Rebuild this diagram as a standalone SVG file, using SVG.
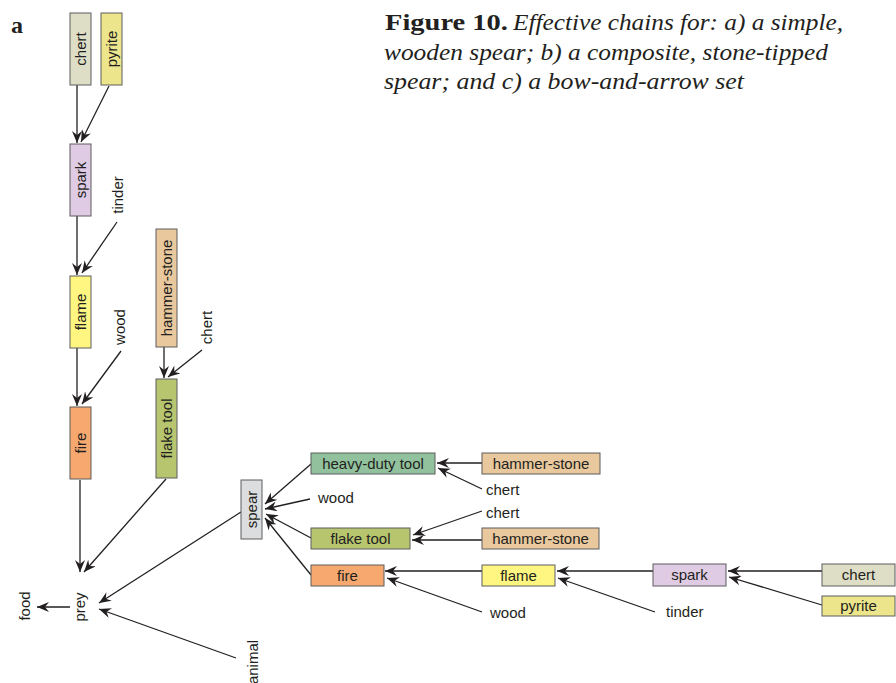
<svg xmlns="http://www.w3.org/2000/svg" width="896" height="683" viewBox="0 0 896 683">
<style>
.box{stroke:#5c5d5f;stroke-width:1}
.lbl{font-family:"Liberation Sans",Arial,sans-serif;font-size:15px;fill:#231f20;text-anchor:middle}
.free{font-family:"Liberation Sans",Arial,sans-serif;font-size:15px;fill:#231f20}
.cap{font-family:"Liberation Serif","Times New Roman",serif;font-size:24px;fill:#231f20}
.con line{stroke:#231f20;stroke-width:1.3;fill:none;marker-end:url(#ah)}
.chert{fill:#deddc5}.pyrite{fill:#ece58c}.spark{fill:#dfcbe3}.flame{fill:#fff681}.fire{fill:#f6a86f}.hammer{fill:#e8c89c}.flake{fill:#b8c56f}.heavy{fill:#91c29d}.spear{fill:#dcdddf}
</style>
<defs>
<marker id="ah" viewBox="0 0 12 10" refX="12" refY="5" markerWidth="12" markerHeight="10" markerUnits="userSpaceOnUse" orient="auto">
<path d="M0,0 L12,5 L0,10 L4,5 Z" fill="#231f20"/>
</marker>
</defs>
<rect width="896" height="683" fill="#ffffff"/>

<g id="caption">
<text class="cap" x="11" y="33" font-weight="bold" font-size="25">a</text>
<text class="cap" x="385" y="30" font-weight="bold" textLength="123" lengthAdjust="spacingAndGlyphs">Figure 10.</text>
<text class="cap" x="513" y="30" font-style="italic" textLength="330" lengthAdjust="spacingAndGlyphs">Effective chains for: a) a simple,</text>
<text class="cap" x="384" y="60" font-style="italic" textLength="444" lengthAdjust="spacingAndGlyphs">wooden spear; b) a composite, stone-tipped</text>
<text class="cap" x="384" y="89" font-style="italic" textLength="360" lengthAdjust="spacingAndGlyphs">spear; and c) a bow-and-arrow set</text>
</g>

<g class="con" id="connectors">
<line x1="77" y1="85" x2="77" y2="143"/>
<line x1="109" y1="86" x2="81" y2="142"/>
<line x1="77" y1="216" x2="77" y2="275"/>
<line x1="117" y1="222" x2="82" y2="273"/>
<line x1="77" y1="348" x2="77" y2="406"/>
<line x1="121" y1="351" x2="82" y2="404"/>
<line x1="80" y1="480" x2="80" y2="572"/>
<line x1="166" y1="479" x2="84" y2="572"/>
<line x1="164" y1="347" x2="164" y2="378"/>
<line x1="202" y1="350" x2="168" y2="377"/>
<line x1="241" y1="512" x2="99" y2="603"/>
<line x1="236" y1="658" x2="99" y2="609"/>
<line x1="70" y1="607" x2="37" y2="607"/>
<line x1="311" y1="464" x2="265" y2="504"/>
<line x1="310" y1="499" x2="265" y2="509"/>
<line x1="311" y1="538" x2="266" y2="514"/>
<line x1="311" y1="575" x2="265" y2="518"/>
<line x1="482" y1="463" x2="437" y2="463"/>
<line x1="482" y1="489" x2="438" y2="468"/>
<line x1="482" y1="511" x2="413" y2="535"/>
<line x1="482" y1="540" x2="412" y2="540"/>
<line x1="482" y1="571" x2="385" y2="571"/>
<line x1="482" y1="612" x2="387" y2="578"/>
<line x1="653" y1="571" x2="557" y2="571"/>
<line x1="655" y1="612" x2="558" y2="578"/>
<line x1="822" y1="571" x2="728" y2="571"/>
<line x1="822" y1="605" x2="729" y2="577"/>
</g>

<g id="a-chert"><rect class="box chert" x="70" y="13" width="21" height="72"/><text class="lbl" transform="translate(80.5,49) rotate(-90)" y="5">chert</text></g>
<g id="a-pyrite"><rect class="box pyrite" x="101" y="13" width="21" height="72"/><text class="lbl" transform="translate(111.5,49) rotate(-90)" y="5">pyrite</text></g>
<g id="a-spark"><rect class="box spark" x="70" y="144" width="21" height="72"/><text class="lbl" transform="translate(80.5,180) rotate(-90)" y="5">spark</text></g>
<g id="a-tinder"><text class="lbl" transform="translate(118,195) rotate(-90)" y="5">tinder</text></g>
<g id="a-flame"><rect class="box flame" x="70" y="276" width="21" height="72"/><text class="lbl" transform="translate(80.5,312) rotate(-90)" y="5">flame</text></g>
<g id="a-wood"><text class="lbl" transform="translate(120,327) rotate(-90)" y="5">wood</text></g>
<g id="a-fire"><rect class="box fire" x="70" y="407" width="21" height="72"/><text class="lbl" transform="translate(80.5,443) rotate(-90)" y="5">fire</text></g>
<g id="a-hammer"><rect class="box hammer" x="156" y="229" width="21" height="118"/><text class="lbl" transform="translate(166.5,288) rotate(-90)" y="5">hammer-stone</text></g>
<g id="a-chert2"><text class="lbl" transform="translate(207,327.5) rotate(-90)" y="5">chert</text></g>
<g id="a-flake"><rect class="box flake" x="156" y="379" width="21" height="99"/><text class="lbl" transform="translate(166.5,428.5) rotate(-90)" y="5">flake tool</text></g>
<g id="prey"><text class="lbl" transform="translate(80,607) rotate(-90)" y="5">prey</text></g>
<g id="food"><text class="lbl" transform="translate(25,606) rotate(-90)" y="5">food</text></g>
<g id="animal"><text class="lbl" transform="translate(253,662) rotate(-90)" y="5">animal</text></g>
<g id="spear"><rect class="box spear" x="241" y="480" width="21" height="59"/><text class="lbl" transform="translate(251.5,509.5) rotate(-90)" y="5">spear</text></g>

<g id="b-heavy"><rect class="box heavy" x="311" y="453" width="124" height="21"/><text class="lbl" x="373" y="468.5">heavy-duty tool</text></g>
<g id="b-hammer1"><rect class="box hammer" x="482" y="453" width="118" height="21"/><text class="lbl" x="541" y="468.5">hammer-stone</text></g>
<g id="b-chert1"><text class="free" x="486" y="495">chert</text></g>
<g id="b-wood1"><text class="free" x="318" y="503">wood</text></g>
<g id="b-chert2"><text class="free" x="486" y="518">chert</text></g>
<g id="b-flake"><rect class="box flake" x="311" y="528" width="99" height="21"/><text class="lbl" x="360.5" y="543.5">flake tool</text></g>
<g id="b-hammer2"><rect class="box hammer" x="482" y="528" width="117" height="21"/><text class="lbl" x="540.5" y="543.5">hammer-stone</text></g>
<g id="b-fire"><rect class="box fire" x="311" y="565" width="73" height="21"/><text class="lbl" x="347.5" y="580.5">fire</text></g>
<g id="b-flame"><rect class="box flame" x="482" y="565" width="73" height="21"/><text class="lbl" x="518.5" y="580.5">flame</text></g>
<g id="b-wood2"><text class="free" x="490" y="618">wood</text></g>
<g id="b-spark"><rect class="box spark" x="653" y="564" width="73" height="22"/><text class="lbl" x="689.5" y="580">spark</text></g>
<g id="b-tinder"><text class="free" x="666" y="617">tinder</text></g>
<g id="b-chert3"><rect class="box chert" x="822" y="564" width="73" height="22"/><text class="lbl" x="858.5" y="580">chert</text></g>
<g id="b-pyrite"><rect class="box pyrite" x="822" y="596" width="73" height="20"/><text class="lbl" x="858.5" y="611">pyrite</text></g>
</svg>
